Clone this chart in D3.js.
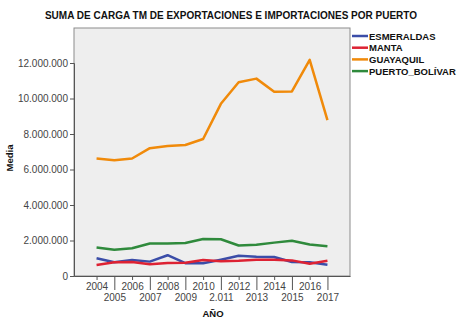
<!DOCTYPE html>
<html><head><meta charset="utf-8">
<script src="https://cdn.jsdelivr.net/npm/d3@7"></script>
<style>body{margin:0;background:#fff;}svg{display:block;font-family:"Liberation Sans",Arial,sans-serif;}</style>
</head><body><svg id="c" width="470" height="324"></svg>
<script>
const years = ["2004","2005","2006","2007","2008","2009","2010","2.011","2012","2013","2014","2015","2016","2017"];
const esmeraldas = [1000000,770000,900000,810000,1170000,720000,720000,920000,1140000,1090000,1070000,790000,770000,640000];
const manta = [620000,770000,790000,660000,730000,750000,900000,830000,860000,920000,920000,880000,690000,860000];
const guayaquil = [6620000,6520000,6620000,7200000,7320000,7380000,7720000,9700000,10920000,11120000,10380000,10400000,12180000,8780000];
const puertoBolivar = [1600000,1480000,1560000,1830000,1830000,1860000,2080000,2070000,1720000,1760000,1880000,1990000,1770000,1680000];
const seriesNames = ["ESMERALDAS","MANTA","GUAYAQUIL","PUERTO_BOLÍVAR"];
const seriesColors = ["#3b4da8","#dd2233","#f08a0a","#2f8a3c"];
const yTicks = [0,2000000,4000000,6000000,8000000,10000000,12000000];

const svg = d3.select("#c");
const L=74,R=350,T=28,B=276;
const x = d3.scalePoint().domain(years).range([L,R]).padding(1.27);
const y = d3.scaleLinear().domain([0,12000000]).range([B,63]);

svg.append("rect").attr("x",L).attr("y",T).attr("width",R-L).attr("height",B-T)
  .attr("fill","#eeeeee").attr("stroke","#8c8c8c").attr("stroke-width",1);

const fmt = v => v===0 ? "0" : d3.format(",")(v).replace(/,/g,".");
const ya = svg.append("g").attr("transform",`translate(${L},0)`)
  .call(d3.axisLeft(y).tickValues(yTicks).tickFormat(fmt).tickSize(4).tickPadding(2));
ya.select(".domain").attr("stroke","#555");
ya.selectAll(".tick line").attr("stroke","#555");
ya.selectAll("text").attr("fill","#444").style("font-size","10px");

const xa = svg.append("g").attr("transform",`translate(0,${B})`)
  .call(d3.axisBottom(x).tickSize(0).tickFormat(d=>d));
xa.select(".domain").attr("stroke","#555");
xa.selectAll(".tick").each(function(d,i){
  const g=d3.select(this);
  g.select("line").attr("y2", i%2===0 ? 4 : 14).attr("stroke","#555");
  g.select("text").attr("y", i%2===0 ? 7 : 18).attr("fill","#444").style("font-size","10px");
});

const data = [esmeraldas,manta,guayaquil,puertoBolivar];
const line = d3.line().x((d,i)=>x(years[i])).y(d=>y(d));
data.forEach((s,k)=>{
  svg.append("path").datum(s).attr("d",line).attr("fill","none")
    .attr("stroke",seriesColors[k]).attr("stroke-width",2.5).attr("stroke-linejoin","round");
});

svg.append("text").attr("x",231).attr("y",19).attr("text-anchor","middle")
  .style("font-size","10px").style("font-weight","bold").attr("fill","#111")
  .text("SUMA DE CARGA TM DE EXPORTACIONES E IMPORTACIONES POR PUERTO");
svg.append("text").attr("transform","translate(13,158) rotate(-90)").attr("text-anchor","middle")
  .style("font-size","9.5px").style("font-weight","bold").attr("fill","#111").text("Media");
svg.append("text").attr("x",213).attr("y",317).attr("text-anchor","middle")
  .style("font-size","9.5px").style("font-weight","bold").attr("fill","#111").text("AÑO");

const lg = svg.append("g");
seriesNames.forEach((n,k)=>{
  const yy = 36 + k*11.7;
  lg.append("line").attr("x1",352).attr("x2",368).attr("y1",yy).attr("y2",yy)
    .attr("stroke",seriesColors[k]).attr("stroke-width",2.5);
  lg.append("text").attr("x",369).attr("y",yy+3.5).style("font-size","9.5px")
    .style("font-weight","bold").attr("fill","#111").text(n);
});
</script></body></html>
